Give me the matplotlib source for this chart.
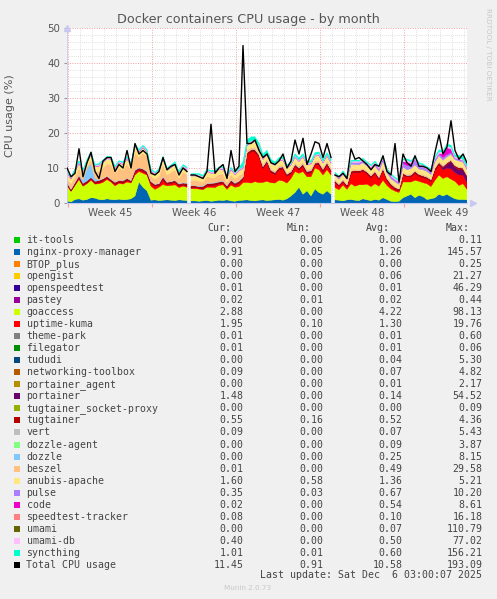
import numpy as np
import matplotlib
matplotlib.use("Agg")
import matplotlib.pyplot as plt
from matplotlib.patches import Rectangle
from matplotlib.transforms import blended_transform_factory

nan = np.nan
# ---- time axis: hours since start of graph (8 h steps) ----
hours = np.arange(0, 801, 8)
gap_hours = [244, 532]          # hours with no data (unknown samples)

week_labels = ["Week 45", "Week 46", "Week 47", "Week 48", "Week 49"]
first_week_start = 2   # hour at which Week 45 begins
week_len = 168

# ---- stacked series (CPU %) ----
npm = [0.6, 0.3, 1.0, 1.2, 0.8, 1.0, 1.5, 1.4, 1.0, 0.9,
       1.2, 1.0, 0.9, 1.1, 0.9, 1.0, 1.2, 2.0, 6.0, 4.5,
       3.5, 0.8, 0.9, 0.7, 0.8, 0.9, 0.8, 0.7, 0.9, 0.8,
       0.7, 0.6, 0.6, 0.5, 0.6, 0.7, 0.5, 0.6, 0.8, 0.7,
       0.9, 0.6, 0.5, 0.7, 0.8, 0.9, 0.7, 0.6, 0.8, 0.9,
       0.7, 0.8, 0.9, 1.0, 0.8, 1.2, 2.0, 3.0, 4.5, 2.5,
       3.5, 2.0, 4.0, 3.0, 2.5, 3.5, 2.5, 0.9, 0.8, 0.6,
       0.9, 1.0, 0.8, 0.7, 1.2, 0.9, 0.7, 1.0, 0.8, 1.5,
       1.0, 0.5, 0.4, 0.5, 1.5, 2.0, 2.5, 1.5, 2.2, 1.8,
       1.0, 1.2, 1.5, 2.5, 2.0, 2.5, 1.8, 1.2, 1.0, 1.0, 0.9]

goaccess = [4.5, 3.0, 4.0, 5.5, 4.0, 4.5, 5.0, 4.0, 4.5, 5.0,
            5.5, 5.0, 4.0, 4.5, 4.5, 5.0, 4.5, 6.0, 3.0, 4.0,
            4.5, 4.0, 3.0, 3.8, 4.5, 4.0, 4.2, 4.5, 3.5, 4.0,
            3.8, 3.5, 3.5, 3.5, 3.2, 3.8, 4.0, 3.8, 4.2, 4.5,
            3.0, 4.5, 4.0, 4.0, 5.0, 5.0, 5.0, 5.5, 5.0, 5.0,
            5.5, 5.0, 4.8, 5.5, 5.5, 4.5, 5.0, 6.0, 4.0, 6.5,
            4.0, 5.5, 6.0, 6.5, 5.5, 6.0, 5.5, 3.5, 3.0, 4.5,
            3.0, 4.5, 4.0, 4.5, 4.0, 4.5, 4.0, 4.5, 4.0, 5.0,
            4.0, 3.5, 3.0, 2.5, 4.5, 4.0, 3.5, 5.0, 4.0, 4.0,
            4.5, 3.5, 5.0, 5.5, 5.0, 5.0, 5.0, 5.0, 4.0, 4.5, 3.0]

uptime_kuma = [0.3, 0.2, 0.3, 0.5, 0.3, 0.3, 0.4, 0.3, 0.3, 0.5,
               0.4, 0.3, 0.5, 0.3, 0.3, 0.5, 0.3, 0.8, 0.5, 0.6,
               0.4, 0.8, 1.0, 0.5, 1.5, 0.5, 0.6, 0.8, 0.5, 0.4,
               0.5, 0.3, 0.3, 0.3, 0.4, 0.5, 0.5, 0.8, 0.5, 0.6,
               0.5, 0.8, 0.6, 1.0, 1.0, 8.0, 9.0, 8.5, 7.5, 4.0,
               5.5, 3.0, 2.5, 3.0, 3.5, 2.0, 1.5, 1.5, 1.0, 1.5,
               1.0, 1.2, 1.0, 1.5, 1.0, 1.5, 1.0, 1.5, 1.0, 1.0,
               0.8, 3.0, 4.0, 3.5, 4.0, 3.0, 2.5, 3.0, 2.0, 3.0,
               1.5, 1.0, 0.5, 0.5, 2.0, 1.5, 1.5, 2.0, 1.5, 1.5,
               1.5, 1.5, 3.0, 3.0, 2.5, 2.5, 3.0, 2.5, 3.0, 2.5, 2.0]

portainer = [0.0, 0.0, 0.0, 0.0, 0.0, 0.0, 0.0, 0.0, 0.0, 0.0,
             0.0, 0.0, 0.0, 0.0, 0.0, 0.0, 0.0, 0.0, 0.0, 0.0,
             0.0, 0.0, 0.0, 0.0, 0.0, 0.0, 0.0, 0.0, 0.0, 0.0,
             0.0, 0.0, 0.0, 0.0, 0.0, 0.0, 0.0, 0.0, 0.0, 0.0,
             0.0, 0.0, 0.0, 0.0, 0.0, 0.0, 0.0, 0.0, 0.0, 0.0,
             0.0, 0.0, 0.0, 0.0, 0.0, 0.0, 0.0, 0.0, 0.0, 0.0,
             0.0, 0.0, 0.0, 0.0, 0.0, 0.0, 0.0, 0.0, 0.0, 0.0,
             0.0, 0.0, 0.0, 0.0, 0.0, 0.0, 0.0, 0.0, 0.0, 0.0,
             0.0, 0.0, 0.0, 0.0, 0.0, 0.0, 0.0, 0.0, 0.0, 0.0,
             0.0, 0.0, 0.0, 0.0, 0.5, 1.0, 2.0, 1.5, 1.5, 1.5, 1.5]

tugtainer = [0.5, 0.4, 0.5, 0.6, 0.5, 0.5, 0.4, 0.5, 0.6, 0.5,
             0.5, 0.4, 0.5, 0.5, 0.6, 0.5, 0.4, 0.5, 0.5, 0.6,
             0.5, 0.5, 0.4, 0.5, 0.6, 0.5, 0.5, 0.4, 0.5, 0.5,
             0.6, 0.5, 0.5, 0.4, 0.5, 0.5, 0.6, 0.5, 0.5, 0.4,
             0.5, 0.6, 0.5, 0.5, 0.5, 0.4, 0.5, 0.6, 0.5, 0.5,
             0.4, 0.5, 0.5, 0.6, 0.5, 0.5, 0.4, 0.5, 0.5, 0.6,
             0.5, 0.5, 0.4, 0.5, 0.6, 0.5, 0.5, 0.5, 0.5, 0.4,
             0.5, 0.6, 0.5, 0.5, 0.4, 0.5, 0.6, 0.5, 0.5, 0.4,
             0.5, 0.5, 0.6, 0.5, 0.5, 0.4, 0.5, 0.6, 0.5, 0.5,
             0.4, 0.5, 0.5, 0.6, 0.5, 0.5, 0.4, 0.5, 0.6, 0.5, 0.55]

dozzle = [0.1, 0.1, 0.2, 0.1, 1.0, 3.5, 4.0, 0.8, 0.2, 0.1,
          0.1, 0.2, 0.1, 0.1, 0.2, 0.1, 0.1, 0.2, 0.1, 0.1,
          0.2, 0.1, 0.1, 0.1, 0.2, 0.1, 0.1, 0.1, 0.2, 0.1,
          0.1, 0.1, 0.1, 0.1, 0.2, 0.1, 0.1, 0.1, 0.2, 0.1,
          0.1, 0.1, 0.2, 0.1, 0.1, 0.1, 0.1, 0.2, 0.1, 0.1,
          0.1, 0.1, 0.1, 0.1, 0.1, 0.1, 0.1, 0.1, 0.1, 0.1,
          0.1, 0.1, 0.1, 0.1, 0.1, 0.1, 0.1, 0.0, 0.0, 0.0,
          0.0, 0.0, 0.0, 0.0, 0.0, 0.0, 0.0, 0.0, 0.0, 0.0,
          0.0, 0.0, 0.0, 0.0, 0.0, 0.0, 0.0, 0.0, 0.0, 0.0,
          0.0, 0.0, 0.0, 0.0, 0.0, 0.0, 0.0, 0.0, 0.0, 0.0, 0.0]

beszel = [1.0, 1.5, 1.5, 2.0, 1.0, 0.5, 1.0, 2.0, 2.5, 3.0,
          3.5, 4.0, 2.5, 3.5, 3.0, 4.0, 3.0, 5.0, 3.0, 4.5,
          4.0, 1.5, 1.5, 2.0, 3.5, 2.0, 2.5, 3.0, 1.5, 3.0,
          2.5, 1.5, 1.5, 1.5, 1.0, 2.0, 1.5, 1.5, 2.0, 2.0,
          1.0, 1.5, 1.0, 1.5, 1.0, 0.5, 0.5, 0.5, 0.4, 0.5,
          0.4, 0.5, 0.4, 0.5, 0.4, 0.3, 0.4, 0.5, 0.4, 0.5,
          0.4, 0.5, 0.4, 0.5, 0.4, 0.5, 0.4, 0.3, 0.3, 0.4,
          0.3, 0.5, 0.4, 0.3, 0.4, 0.3, 0.4, 0.3, 0.4, 0.5,
          0.3, 0.2, 0.3, 0.2, 0.4, 0.3, 0.4, 0.3, 0.2, 0.3,
          0.3, 0.2, 0.3, 0.4, 0.3, 0.2, 0.3, 0.2, 0.3, 0.2, 0.0]

anubis_apache = [1.4, 1.3, 1.5, 1.4, 1.2, 1.4, 1.5, 1.3, 1.4, 1.5,
                 1.4, 1.6, 1.3, 1.4, 1.5, 1.4, 1.3, 1.6, 1.4, 1.5,
                 1.4, 1.3, 1.2, 1.4, 1.5, 1.3, 1.4, 1.5, 1.3, 1.4,
                 1.3, 1.2, 1.2, 1.3, 1.2, 1.4, 1.3, 1.2, 1.4, 1.3,
                 1.2, 1.4, 1.3, 1.4, 1.4, 1.5, 1.4, 1.6, 1.5, 1.4,
                 1.3, 1.4, 1.5, 1.3, 1.4, 1.3, 1.5, 1.4, 1.3, 1.5,
                 1.4, 1.3, 1.5, 1.4, 1.3, 1.4, 1.3, 1.2, 1.2, 1.3,
                 1.2, 1.4, 1.3, 1.4, 1.5, 1.3, 1.4, 1.3, 1.4, 1.5,
                 1.3, 1.2, 1.3, 1.1, 1.4, 1.3, 1.4, 1.5, 1.3, 1.4,
                 1.3, 1.2, 1.4, 1.5, 1.4, 1.5, 1.4, 1.5, 1.6, 1.5, 1.6]

pulse = [0.2, 0.2, 0.1, 0.2, 0.2, 0.1, 0.2, 0.2, 0.1, 0.2,
         0.2, 0.1, 0.2, 0.2, 0.1, 0.2, 0.2, 0.1, 0.2, 0.2,
         0.1, 0.2, 0.2, 0.1, 0.2, 0.2, 0.1, 0.2, 0.2, 0.1,
         0.2, 0.2, 0.2, 0.1, 0.2, 0.2, 0.1, 0.2, 0.2, 0.1,
         0.2, 0.2, 0.1, 0.2, 0.2, 0.2, 0.2, 0.1, 0.2, 0.2,
         0.1, 0.2, 0.2, 0.1, 0.2, 0.2, 0.1, 0.2, 0.2, 0.1,
         0.2, 0.2, 0.1, 0.2, 0.2, 0.1, 0.2, 0.3, 0.3, 0.3,
         0.3, 0.5, 0.5, 0.6, 0.5, 0.6, 0.5, 0.7, 0.6, 0.8,
         0.6, 0.7, 0.5, 0.6, 1.0, 1.2, 1.0, 1.5, 1.0, 0.8,
         0.6, 0.8, 0.7, 0.6, 0.8, 0.6, 0.5, 0.4, 0.5, 0.4, 0.35]

code = [0.0, 0.0, 0.0, 0.0, 0.0, 0.0, 0.0, 0.0, 0.0, 0.0,
        0.0, 0.0, 0.0, 0.0, 0.0, 0.0, 0.0, 0.0, 0.0, 0.0,
        0.0, 0.0, 0.0, 0.0, 0.0, 0.0, 0.0, 0.0, 0.0, 0.0,
        0.0, 0.0, 0.0, 0.0, 0.0, 0.0, 0.0, 0.0, 0.0, 0.0,
        0.0, 0.0, 0.0, 0.0, 0.0, 0.0, 0.0, 0.0, 0.0, 0.0,
        0.0, 0.0, 0.0, 0.0, 0.0, 0.0, 0.0, 0.0, 0.0, 0.0,
        0.0, 0.0, 0.0, 0.0, 0.0, 0.0, 0.0, 0.0, 0.0, 0.0,
        0.0, 0.0, 0.0, 0.0, 0.0, 0.0, 0.0, 0.0, 0.0, 0.0,
        0.0, 0.0, 0.0, 0.0, 0.5, 1.0, 0.5, 0.0, 0.0, 0.0,
        0.0, 0.0, 0.0, 0.0, 1.0, 2.0, 1.0, 0.0, 0.0, 0.0, 0.0]

umami_db = [0.3, 0.3, 0.4, 0.3, 0.3, 0.4, 0.3, 0.3, 0.4, 0.3,
            0.3, 0.4, 0.3, 0.3, 0.4, 0.3, 0.3, 0.4, 0.3, 0.3,
            0.4, 0.3, 0.3, 0.4, 0.3, 0.3, 0.4, 0.3, 0.3, 0.4,
            0.3, 0.3, 0.3, 0.4, 0.3, 0.3, 0.4, 0.3, 0.3, 0.4,
            0.3, 0.3, 0.4, 0.3, 0.3, 0.4, 0.3, 0.3, 0.4, 0.3,
            0.3, 0.4, 0.3, 0.3, 0.4, 0.3, 0.3, 0.4, 0.3, 0.3,
            0.4, 0.3, 0.3, 0.4, 0.3, 0.3, 0.4, 0.3, 0.3, 0.4,
            0.3, 0.4, 0.5, 0.4, 0.5, 0.4, 0.5, 0.4, 0.5, 0.4,
            0.5, 0.4, 0.5, 0.4, 0.5, 0.6, 0.5, 0.6, 0.5, 0.6,
            0.5, 0.6, 0.5, 0.6, 0.5, 0.6, 0.5, 0.4, 0.5, 0.4, 0.4]

syncthing = [0.3, 0.2, 0.3, 0.3, 0.2, 0.3, 0.3, 0.2, 0.3, 0.3,
             0.2, 0.3, 0.3, 0.2, 0.3, 0.3, 0.2, 0.3, 0.3, 0.2,
             0.3, 0.3, 0.2, 0.3, 0.3, 0.2, 0.3, 0.3, 0.2, 0.3,
             0.3, 0.2, 0.2, 0.3, 0.3, 0.2, 0.3, 0.3, 0.2, 0.3,
             0.3, 0.2, 0.3, 0.3, 1.5, 1.0, 1.2, 1.0, 0.8, 1.0,
             0.8, 0.6, 0.5, 0.6, 0.5, 0.5, 0.6, 0.5, 0.6, 0.5,
             0.6, 0.5, 0.6, 0.5, 0.6, 0.5, 0.6, 0.3, 0.3, 0.3,
             0.3, 0.3, 0.3, 0.3, 0.3, 0.3, 0.3, 0.3, 0.3, 0.3,
             0.3, 0.3, 0.3, 0.3, 0.3, 0.3, 0.3, 0.3, 0.3, 0.3,
             0.3, 0.3, 0.4, 0.5, 0.4, 0.5, 0.6, 0.5, 0.6, 0.8, 1.0]

total = [10, 7.5, 8.5, 15.5, 7.5, 11.5, 14.5, 9, 7, 12,
         13, 13, 9, 11, 10, 15, 10, 17, 14, 15,
         14, 8.5, 8, 9, 13, 9.5, 10.5, 11, 8, 10,
         9, 8, 8, 7.5, 7, 9, 22.5, 8.5, 10, 11,
         7, 15, 9, 10.5, 45, 17, 17, 18, 15, 13,
         14, 11.5, 11, 12, 14, 10, 12, 18, 14, 18.5,
         11, 14, 17.5, 17, 13, 17, 13, 8, 7.5, 8.5,
         7, 15.5, 12.5, 13, 12, 11, 9.5, 11, 10.5, 13.5,
         9, 8, 17, 6, 14, 11.5, 10.5, 13.5, 10.5, 10.5,
         10, 9, 14.5, 19.5, 14, 16, 23.5, 15, 12.5, 14, 11.5]

# ---- legend table ----
names = ["it-tools", "nginx-proxy-manager", "BTOP_plus", "opengist", "openspeedtest",
         "pastey", "goaccess", "uptime-kuma", "theme-park", "filegator", "tududi",
         "networking-toolbox", "portainer_agent", "portainer", "tugtainer_socket-proxy",
         "tugtainer", "vert", "dozzle-agent", "dozzle", "beszel", "anubis-apache",
         "pulse", "code", "speedtest-tracker", "umami", "umami-db", "syncthing",
         "Total CPU usage"]
colors = ["#00CC00", "#0066B3", "#FF8000", "#FFCC00", "#330099", "#990099",
          "#CCFF00", "#FF0000", "#808080", "#008F00", "#00487D", "#B35A00",
          "#B38F00", "#6B006B", "#8FB300", "#B30000", "#BEBEBE", "#80FF80",
          "#80C9FF", "#FFC080", "#FFE680", "#AA80FF", "#EE00CC", "#FF8080",
          "#666600", "#FFBFFF", "#00FFCC", "#000000"]
cur = ["0.00", "0.91", "0.00", "0.00", "0.01", "0.02", "2.88", "1.95", "0.01", "0.01",
       "0.00", "0.09", "0.00", "1.48", "0.00", "0.55", "0.09", "0.00", "0.00", "0.01",
       "1.60", "0.35", "0.02", "0.08", "0.00", "0.40", "1.01", "11.45"]
mins = ["0.00", "0.05", "0.00", "0.00", "0.00", "0.01", "0.00", "0.10", "0.00", "0.00",
        "0.00", "0.00", "0.00", "0.00", "0.00", "0.16", "0.00", "0.00", "0.00", "0.00",
        "0.58", "0.03", "0.00", "0.00", "0.00", "0.00", "0.01", "0.91"]
avgs = ["0.00", "1.26", "0.00", "0.06", "0.01", "0.02", "4.22", "1.30", "0.01", "0.01",
        "0.04", "0.07", "0.01", "0.14", "0.00", "0.52", "0.07", "0.09", "0.25", "0.49",
        "1.36", "0.67", "0.54", "0.10", "0.07", "0.50", "0.60", "10.58"]
maxs = ["0.11", "145.57", "0.25", "21.27", "46.29", "0.44", "98.13", "19.76", "0.60", "0.06",
        "5.30", "4.82", "2.17", "54.52", "0.09", "4.36", "5.43", "3.87", "8.15", "29.58",
        "5.21", "10.20", "8.61", "16.18", "110.79", "77.02", "156.21", "193.09"]


def with_gaps(values):
    """Insert unknown (NaN) samples at the gap times."""
    t = hours.astype(float)
    v = np.array(values, dtype=float)
    for g in sorted(gap_hours, reverse=True):
        idx = int(np.searchsorted(t, g))
        t = np.insert(t, idx, g)
        v = np.insert(v, idx, nan)
    return t, v


# ---- figure ----
W, H = 497, 599
fig = plt.figure(figsize=(W / 100, H / 100), dpi=100, facecolor="#F0F0F0")
ax = fig.add_axes([67 / W, 1 - 203 / H, 400 / W, 175 / H], facecolor="white")

stack = [npm, goaccess, uptime_kuma, portainer, tugtainer, dozzle, beszel,
         anubis_apache, pulse, code, umami_db, syncthing]
stack_colors = [colors[1], colors[6], colors[7], colors[13], colors[15], colors[18],
                colors[19], colors[20], colors[21], colors[22], colors[25], colors[26]]
tt = with_gaps(total)[0]
ax.stackplot(tt, *[with_gaps(s)[1] for s in stack], colors=stack_colors,
             linewidth=0.3, edgecolor="face", zorder=2)
ax.plot(tt, with_gaps(total)[1], color="black", lw=1.0, zorder=3)

ax.set_xlim(0, 800)
ax.set_ylim(0, 50)
ax.set_yticks(np.arange(0, 51, 10))
ax.set_yticks(np.arange(0, 51, 2), minor=True)
wk_bounds = [first_week_start + week_len * k for k in range(len(week_labels))]
ax.set_xticks(wk_bounds)
ax.set_xticks(np.arange(first_week_start, 800, 24), minor=True)
ax.set_xticklabels([])
ax.grid(which="minor", color="#D6D6D6", ls=(0, (1, 1.5)), lw=0.6)
ax.grid(which="major", color="#F2A0A0", ls=(0, (1, 1.5)), lw=0.7)
ax.set_axisbelow(True)
ax.tick_params(axis="y", which="major", labelsize=7.4, labelcolor="#555555",
               length=2, color="#999999", pad=3)
ax.tick_params(axis="x", which="major", length=3, color="#F2A0A0", direction="out")
ax.tick_params(which="minor", length=0)
for sp in ["top", "right"]:
    ax.spines[sp].set_visible(False)
ax.spines["left"].set_color("#C8C8F0")
ax.spines["left"].set_linewidth(0.6)
ax.spines["bottom"].set_color("#C8C8F0")
ax.spines["bottom"].set_linewidth(0.8)
ax.plot([0], [1.0], marker="^", ms=4, color="#C8C8F0", transform=ax.transAxes, clip_on=False)
ax.plot([1.015], [0], marker=">", ms=4, color="#C8C8F0", transform=ax.transAxes, clip_on=False)

trans = blended_transform_factory(ax.transData, ax.transAxes)
for k, lab in enumerate(week_labels):
    ax.text(wk_bounds[k] + week_len / 2, -0.055, lab, transform=trans, ha="center",
            va="center", fontsize=7.4, color="#555555")

fig.text(248 / W, 1 - 19 / H, "Docker containers CPU usage - by month", ha="center",
         va="center", fontsize=9.2, color="#555555")
fig.text(10 / W, 1 - 116 / H, "CPU usage (%)", rotation=90, ha="center", va="center",
         fontsize=8, color="#555555")
fig.text(488 / W, 1 - 54 / H, "RRDTOOL / TOBI OETIKER", rotation=-90, ha="center",
         va="center", fontsize=5.2, color="#C8C8C8")

mono = "DejaVu Sans Mono"
tc = "#444444"
fs = 7.1
hy = 1 - 228 / H
for xr, lab in [(231, "Cur:"), (311, "Min:"), (390, "Avg:"), (470, "Max:")]:
    fig.text(xr / W, hy, lab, ha="right", va="center", family=mono, fontsize=fs, color=tc)
for i, nm in enumerate(names):
    yc = 240 + 12.03 * i
    fy = 1 - yc / H
    fig.patches.append(Rectangle((14 / W, 1 - (yc + 3) / H), 6 / W, 6 / H,
                                 transform=fig.transFigure, facecolor=colors[i],
                                 edgecolor="none"))
    fig.text(26.5 / W, fy, nm, ha="left", va="center", family=mono, fontsize=fs, color=tc)
    for xr, vals in [(243.5, cur), (323.5, mins), (402.5, avgs), (482.5, maxs)]:
        fig.text(xr / W, fy, vals[i], ha="right", va="center", family=mono,
                 fontsize=fs, color=tc)
fig.text(482.5 / W, 1 - 575.5 / H, "Last update: Sat Dec  6 03:00:07 2025", ha="right",
         va="center", family=mono, fontsize=fs, color=tc)
fig.text(248 / W, 1 - 588 / H, "Munin 2.0.73", ha="center", va="center", fontsize=5.2,
         color="#C8C8C8")

fig.savefig("out.png", dpi=100, facecolor=fig.get_facecolor())
